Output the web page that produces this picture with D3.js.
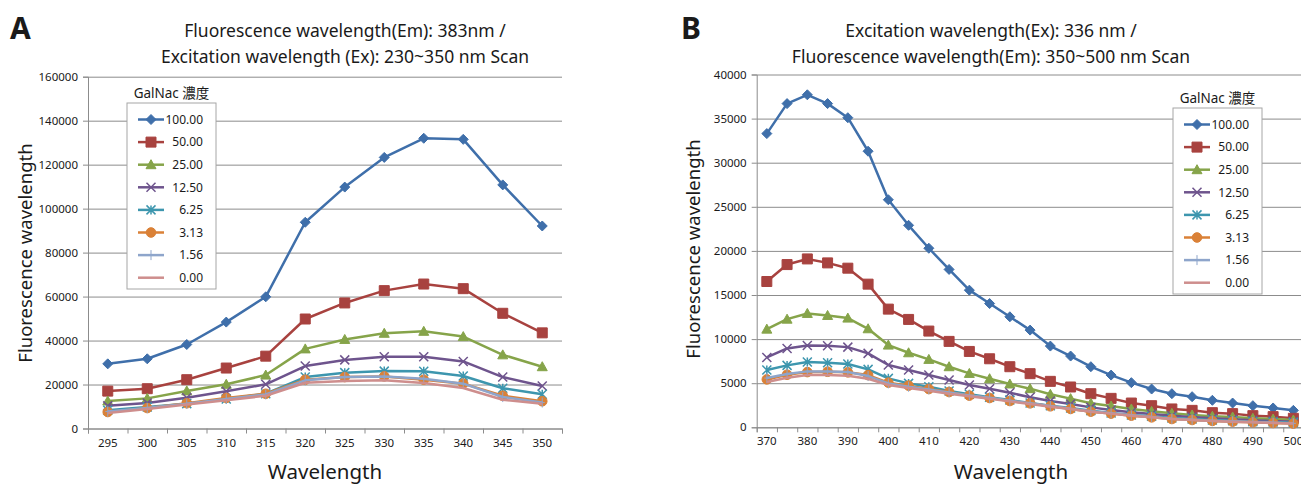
<!DOCTYPE html>
<html lang="ja">
<head>
<meta charset="utf-8">
<title>GalNac fluorescence scan</title>
<script src="https://d3js.org/d3.v7.min.js"></script>
<style>
body { margin:0; background:#ffffff; }
svg text { font-family:"Noto Sans","Noto Sans CJK JP",sans-serif; fill:#1a1a1a; }
</style>
</head>
<body>
<svg id="fig" width="1301" height="486"></svg>
<script>
// series (GalNac 濃度)
const seriesNames = ['100.00', '50.00', '25.00', '12.50', '6.25', '3.13', '1.56', '0.00'];
const seriesColors = ['#3f6faa', '#a8423f', '#86a44a', '#6e548d', '#3d96ae', '#da8137', '#8ea5cb', '#ce8e8d'];
const seriesMarkers = ['diamond', 'square', 'triangle', 'x', 'star', 'circle', 'plus', 'none'];

// A: Em 383nm, Ex scan
const wavelengthA = [295, 300, 305, 310, 315, 320, 325, 330, 335, 340, 345, 350];
const yTicksA = [0, 20000, 40000, 60000, 80000, 100000, 120000, 140000, 160000];
const a100 = [29400, 31700, 38200, 48400, 59900, 93800, 109800, 123300, 132000, 131500, 110800, 92100];
const a50 = [17000, 18100, 22200, 27500, 32900, 49800, 57100, 62700, 65700, 63600, 52400, 43500];
const a25 = [12500, 13700, 17100, 20100, 24300, 36200, 40500, 43300, 44200, 41800, 33500, 28100];
const a12 = [10300, 11600, 14000, 16900, 20100, 28400, 31200, 32600, 32600, 30500, 23400, 19300];
const a6 = [8300, 9800, 11300, 13400, 15800, 23400, 25400, 26100, 26000, 23900, 18300, 15600];
const a3 = [7500, 9300, 11500, 13900, 15800, 22200, 23400, 23700, 22200, 20400, 14900, 12400];
const a1 = [7700, 9300, 11300, 13400, 15500, 21900, 23400, 23600, 22600, 20400, 14300, 11800];
const a0 = [7100, 8900, 10900, 12800, 14900, 20800, 21600, 21900, 20700, 18400, 13100, 11300];

// B: Ex 336nm, Em scan
const wavelengthB = [370, 375, 380, 385, 390, 395, 400, 405, 410, 415, 420, 425, 430, 435, 440, 445, 450, 455, 460, 465, 470, 475, 480, 485, 490, 495, 500];
const yTicksB = [0, 5000, 10000, 15000, 20000, 25000, 30000, 35000, 40000];
const b100 = [33300, 36700, 37700, 36700, 35100, 31300, 25800, 22900, 20300, 17900, 15550, 14030, 12530, 11020, 9210, 8080, 6870, 5920, 5060, 4340, 3810, 3470, 3060, 2750, 2450, 2190, 1920];
const b50 = [16530, 18450, 19090, 18640, 18040, 16230, 13400, 12230, 10910, 9740, 8600, 7770, 6870, 6080, 5210, 4570, 3810, 3280, 2750, 2450, 2080, 1920, 1660, 1550, 1320, 1210, 1020];
const b25 = [11130, 12260, 12910, 12680, 12380, 11170, 9320, 8450, 7700, 6870, 6110, 5510, 4910, 4380, 3740, 3250, 2720, 2420, 2080, 1810, 1580, 1400, 1250, 1170, 1020, 940, 830];
const b12 = [7920, 8940, 9280, 9250, 9090, 8380, 7060, 6490, 5920, 5360, 4790, 4380, 3920, 3400, 2980, 2640, 2260, 1960, 1700, 1510, 1320, 1170, 1020, 910, 790, 720, 640];
const b6 = [6490, 7020, 7400, 7320, 7170, 6570, 5550, 4980, 4600, 4110, 3740, 3400, 3090, 2750, 2450, 2190, 1890, 1620, 1400, 1250, 1060, 940, 830, 750, 640, 600, 530];
const b3 = [5430, 5960, 6260, 6300, 6230, 5920, 5060, 4720, 4340, 4000, 3590, 3320, 2980, 2720, 2380, 2080, 1770, 1550, 1320, 1130, 940, 830, 720, 640, 570, 490, 420];
const b1 = [5580, 6040, 6340, 6340, 6260, 5810, 4980, 4600, 4300, 3960, 3620, 3360, 3020, 2720, 2420, 2110, 1810, 1580, 1360, 1170, 980, 870, 750, 680, 600, 530, 450];
const b0 = [5130, 5620, 5920, 5920, 5850, 5510, 4790, 4450, 4150, 3810, 3510, 3250, 2940, 2640, 2340, 2080, 1770, 1550, 1320, 1130, 940, 830, 720, 640, 570, 490, 420];

const svg = d3.select('#fig');

// marker shapes, r = half size
function markerPath(type, r) {
  const p = d3.path();
  if (type == 'diamond') {
    p.moveTo(0, -r); p.lineTo(r, 0); p.lineTo(0, r); p.lineTo(-r, 0); p.closePath();
  } else if (type == 'square') {
    p.rect(-r, -r, 2 * r, 2 * r);
  } else if (type == 'triangle') {
    p.moveTo(0, -r); p.lineTo(r, r * 0.8); p.lineTo(-r, r * 0.8); p.closePath();
  } else if (type == 'circle') {
    p.arc(0, 0, r, 0, 2 * Math.PI);
  } else if (type == 'x' || type == 'star') {
    p.moveTo(-r, -r); p.lineTo(r, r); p.moveTo(-r, r); p.lineTo(r, -r);
    if (type == 'star') { p.moveTo(0, -r); p.lineTo(0, r); }
  } else if (type == 'plus') {
    p.moveTo(0, -r); p.lineTo(0, r); p.moveTo(-r * 0.5, 0); p.lineTo(r * 0.5, 0);
  }
  return p.toString();
}
const filled = t => ['diamond', 'square', 'triangle', 'circle'].includes(t);
const markerSize = {diamond: 5, square: 5, triangle: 5, x: 4.5, star: 4.5, circle: 4.8, plus: 5, none: 0};

function drawPanel(cfg) {
  const g = svg.append('g');
  const x = d3.scaleBand().domain(cfg.cats).range([cfg.left, cfg.right]);
  const xTick = d3.scaleLinear().domain([0, cfg.cats.length]).range([cfg.left, cfg.right]);
  const y = d3.scaleLinear().domain([0, cfg.yTicks[cfg.yTicks.length - 1]]).range([cfg.bottom, cfg.top]);

  // gridlines
  g.append('g').attr('transform', `translate(${cfg.left},0)`)
    .call(d3.axisLeft(y).tickValues(cfg.yTicks).tickSize(-(cfg.right - cfg.left)).tickFormat(''))
    .call(a => a.select('.domain').remove())
    .selectAll('line').attr('stroke', '#8c8c8c');

  // y axis
  const ya = g.append('g').attr('transform', `translate(${cfg.left},0)`)
    .call(d3.axisLeft(y).tickValues(cfg.yTicks).tickSize(5).tickPadding(5).tickFormat(d3.format('d')));
  ya.select('.domain').attr('stroke', '#8c8c8c');
  ya.selectAll('line').attr('stroke', '#8c8c8c');
  ya.selectAll('text').attr('font-size', '11.5px').attr('font-family', null);

  // x axis: tick marks on band edges, labels in band centres
  const xa = g.append('g').attr('transform', `translate(0,${cfg.bottom})`)
    .call(d3.axisBottom(xTick).tickValues(d3.range(cfg.cats.length + 1)).tickSize(5).tickFormat(''));
  xa.select('.domain').attr('stroke', '#8c8c8c');
  xa.selectAll('line').attr('stroke', '#8c8c8c');
  const xl = g.append('g').attr('transform', `translate(0,${cfg.bottom})`)
    .call(d3.axisBottom(x).tickValues(cfg.cats.filter((c, i) => i % cfg.labelEvery == 0)).tickSize(0).tickPadding(10));
  xl.select('.domain').remove();
  xl.selectAll('text').attr('font-size', '11.5px').attr('font-family', null);

  // series
  const line = d3.line().x((d, i) => x(cfg.cats[i]) + x.bandwidth() / 2).y(d => y(d));
  cfg.series.forEach((vals, s) => {
    const col = seriesColors[s];
    g.append('path').datum(vals)
      .attr('fill', 'none').attr('stroke', col).attr('stroke-width', 2.5)
      .attr('stroke-linejoin', 'round').attr('d', line);
    const m = seriesMarkers[s];
    if (m == 'none') return;
    g.selectAll(null).data(vals).enter().append('path')
      .attr('transform', (d, i) => `translate(${x(cfg.cats[i]) + x.bandwidth() / 2},${y(d)})`)
      .attr('d', markerPath(m, markerSize[m]))
      .attr('fill', filled(m) ? col : 'none')
      .attr('stroke', col).attr('stroke-width', filled(m) ? 1 : (m == 'plus' ? 1 : 1.5));
  });

  // titles
  svg.append('text').attr('x', cfg.letterX).attr('y', 39).attr('font-size', '30px')
    .attr('font-weight', 'bold').text(cfg.letter);
  cfg.title.forEach((t, i) => {
    svg.append('text').attr('x', cfg.titleX).attr('y', 37 + i * 25.5).attr('text-anchor', 'middle')
      .attr('font-size', '17.5px').text(t);
  });
  svg.append('text').attr('transform', `translate(${cfg.yTitleX},${cfg.yTitleY}) rotate(-90)`)
    .attr('text-anchor', 'middle').attr('font-size', '18.5px').text('Fluorescence wavelength');
  svg.append('text').attr('x', cfg.xTitleX).attr('y', 479).attr('text-anchor', 'middle')
    .attr('font-size', '20.5px').text('Wavelength');

  // legend
  const L = cfg.legend;
  svg.append('text').attr('x', L.x + L.w / 2).attr('y', L.y - 5).attr('text-anchor', 'middle')
    .attr('font-size', '13.5px').text('GalNac 濃度');
  svg.append('rect').attr('x', L.x).attr('y', L.y).attr('width', L.w).attr('height', L.h)
    .attr('fill', '#ffffff').attr('stroke', '#a6a6a6');
  seriesNames.forEach((name, s) => {
    const ry = L.y + 16.5 + s * 22.6;
    const col = seriesColors[s];
    const m = seriesMarkers[s];
    svg.append('line').attr('x1', L.x + 11).attr('x2', L.x + 37).attr('y1', ry).attr('y2', ry)
      .attr('stroke', col).attr('stroke-width', 2.5);
    if (m != 'none') {
      svg.append('path').attr('transform', `translate(${L.x + 24},${ry})`)
        .attr('d', markerPath(m, markerSize[m]))
        .attr('fill', filled(m) ? col : 'none')
        .attr('stroke', col).attr('stroke-width', filled(m) ? 1 : (m == 'plus' ? 1 : 1.5));
    }
    svg.append('text').attr('x', L.x + L.w - 13).attr('y', ry).attr('dy', '0.35em')
      .attr('text-anchor', 'end').attr('font-size', '12px').text(name);
  });
}

drawPanel({
  cats: wavelengthA, yTicks: yTicksA, labelEvery: 1,
  series: [a100, a50, a25, a12, a6, a3, a1, a0],
  left: 88, right: 562, top: 76.7, bottom: 428.5,
  letter: 'A', letterX: 10,
  title: ['Fluorescence wavelength(Em): 383nm /', 'Excitation wavelength (Ex): 230~350 nm Scan'],
  titleX: 345, yTitleX: 32, yTitleY: 253, xTitleX: 325,
  legend: {x: 127, y: 103, w: 89, h: 186}
});

drawPanel({
  cats: wavelengthB, yTicks: yTicksB, labelEvery: 2,
  series: [b100, b50, b25, b12, b6, b3, b1, b0],
  left: 756.7, right: 1303.5, top: 74.5, bottom: 427.3,
  letter: 'B', letterX: 681,
  title: ['Excitation wavelength(Ex): 336 nm /', 'Fluorescence wavelength(Em): 350~500 nm Scan'],
  titleX: 991, yTitleX: 700, yTitleY: 249, xTitleX: 1011,
  legend: {x: 1173, y: 108, w: 89, h: 186}
});
</script>
</body>
</html>
